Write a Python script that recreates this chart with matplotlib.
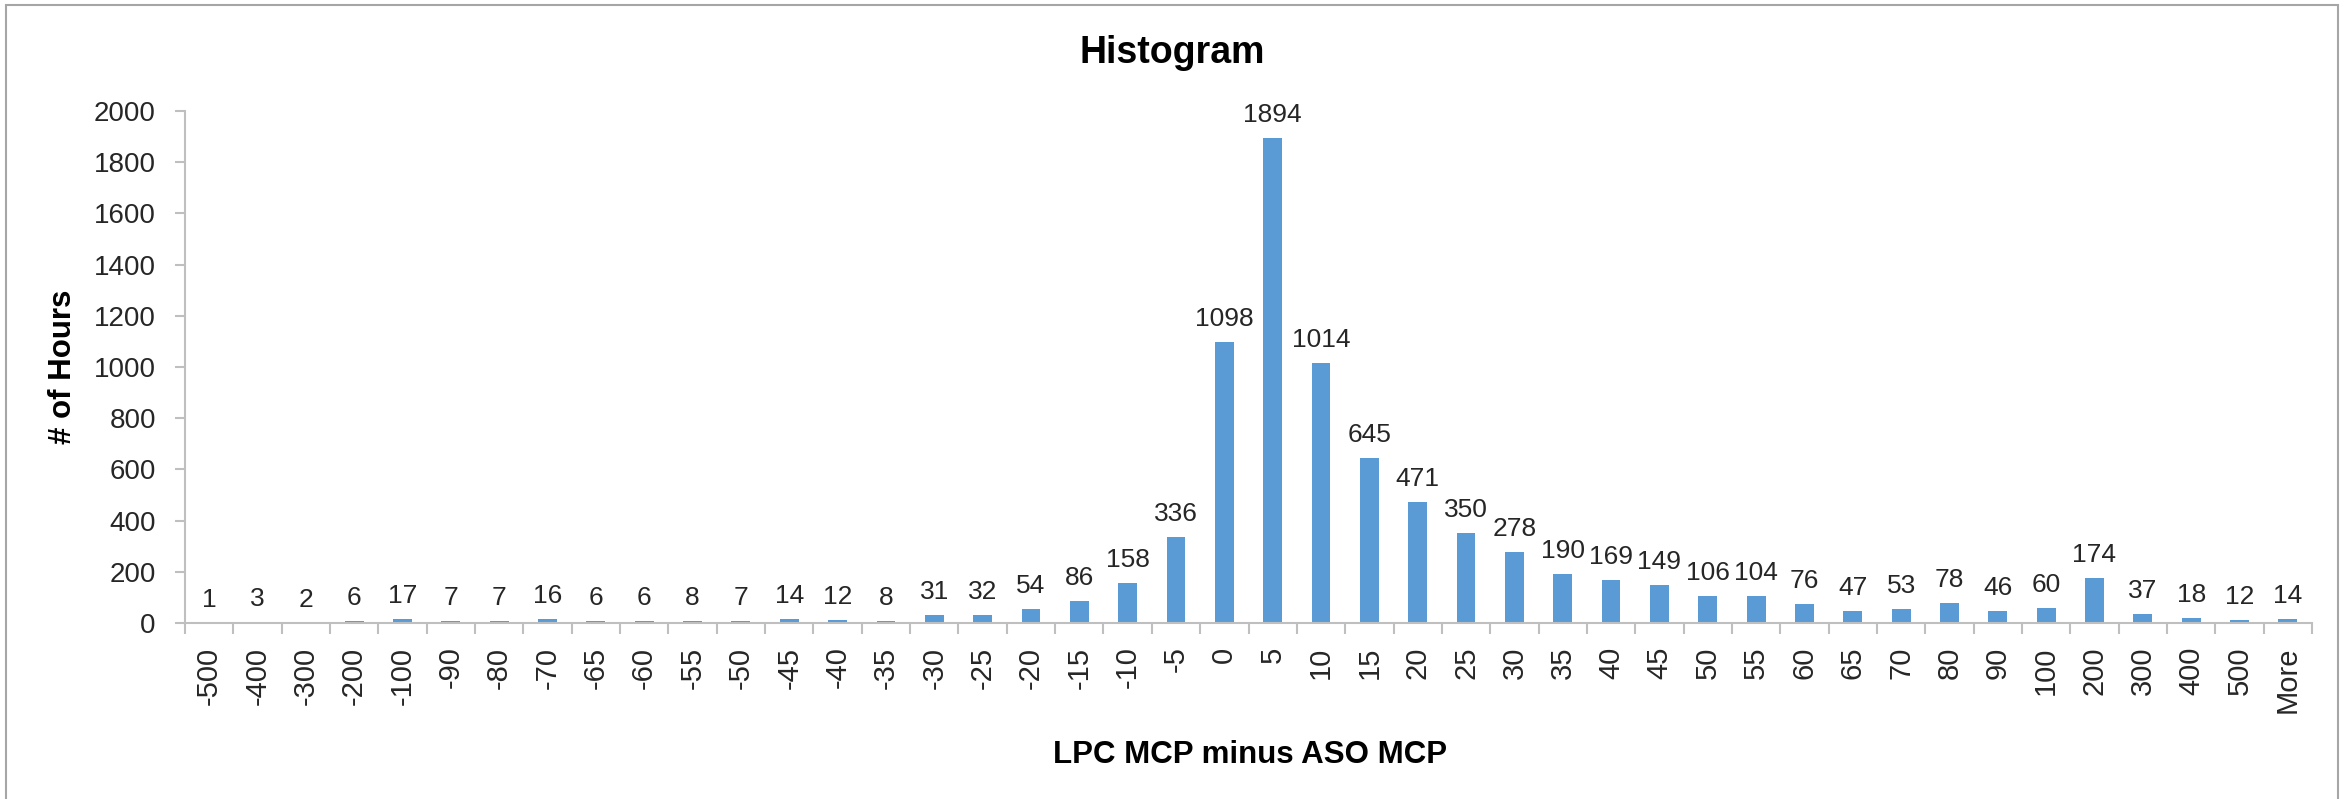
import numpy as np
import matplotlib
matplotlib.use("Agg")
import matplotlib.pyplot as plt
from matplotlib.patches import Rectangle

# bins (Excel histogram output) and counts
bins = ['-500', '-400', '-300', '-200', '-100', '-90', '-80', '-70', '-65', '-60',
        '-55', '-50', '-45', '-40', '-35', '-30', '-25', '-20', '-15', '-10',
        '-5', '0', '5', '10', '15', '20', '25', '30', '35', '40',
        '45', '50', '55', '60', '65', '70', '80', '90', '100', '200',
        '300', '400', '500', 'More']
horas = [1, 3, 2, 6, 17, 7, 7, 16, 6, 6,
         8, 7, 14, 12, 8, 31, 32, 54, 86, 158,
         336, 1098, 1894, 1014, 645, 471, 350, 278, 190, 169,
         149, 106, 104, 76, 47, 53, 78, 46, 60, 174,
         37, 18, 12, 14]
yticks = list(range(0, 2001, 200))

plt.rcParams['font.family'] = ['Liberation Sans', 'DejaVu Sans']

W, H = 2351, 799
fig = plt.figure(figsize=(W / 100, H / 100), dpi=100)
ax = fig.add_axes([185 / W, 1 - 623 / H, (2312 - 185) / W, (623 - 111) / H])

x = np.arange(len(bins))
ax.bar(x, horas, width=0.39, color='#5B9BD5', zorder=2)

# etiquetas de datos
for xi, v in zip(x, horas):
    ax.annotate(str(v), (xi, v), xytext=(0, 11.5), textcoords='offset points',
                ha='center', va='baseline', fontsize=19, color='#262626')

ax.set_xlim(-0.5, len(bins) - 0.5)
ax.set_ylim(0, 2000)
ax.set_yticks(yticks)
ax.set_xticks(x)
ax.set_xticklabels(bins, rotation=90)
ax.set_xticks(np.arange(-0.5, len(bins), 1), minor=True)

gris = '#BFBFBF'
for s in ['top', 'right']:
    ax.spines[s].set_visible(False)
for s in ['left', 'bottom']:
    ax.spines[s].set_color(gris)
    ax.spines[s].set_linewidth(1.5)

ax.tick_params(axis='x', which='major', length=0, pad=17, labelsize=21, labelcolor='#262626')
ax.tick_params(axis='x', which='minor', length=8, width=1.5, color=gris)
ax.tick_params(axis='y', length=7, width=1.5, color=gris, pad=14, labelsize=20, labelcolor='#262626')

# titulos
fig.text(1172 / W, 1 - 63 / H, 'Histogram', ha='center', va='baseline',
         fontsize=27, fontweight='bold', color='black')
fig.text(1250 / W, 1 - 763 / H, 'LPC MCP minus ASO MCP', ha='center', va='baseline',
         fontsize=22.5, fontweight='bold', color='black')
fig.text(63 / W, 1 - 367 / H, '# of Hours', ha='center', va='center', rotation=90,
         fontsize=22.5, fontweight='bold', color='black')

# marco del grafico
fig.patches.append(Rectangle((6 / W, -0.1), (2338 - 6) / W, 1.1 - 5 / H,
                             transform=fig.transFigure, fill=False,
                             edgecolor='#A6A6A6', linewidth=1.5))

fig.savefig('out.png', dpi=100, facecolor='white')
